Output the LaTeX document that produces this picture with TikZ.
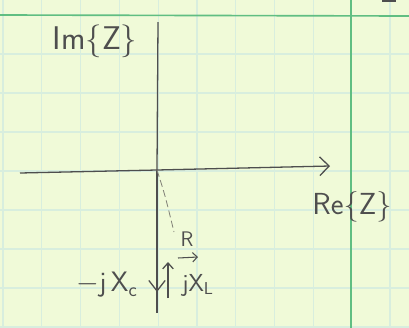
\documentclass[tikz,border=0pt]{standalone}
\usepackage{fontspec}
\definecolor{paper}{RGB}{240,250,216}
\definecolor{gridpale}{RGB}{216,238,222}
\definecolor{gridgreen}{RGB}{96,190,130}
\definecolor{pencil}{RGB}{78,78,78}
\definecolor{pencilfaint}{RGB}{130,130,120}
\usetikzlibrary{arrows.meta,positioning}
\tikzset{
  axisline/.style={draw=pencil, line width=1.1pt},
  vecline/.style={draw=pencil, line width=1.1pt, -{Straight Barb[length=9pt,width=14pt]}},
  faintline/.style={draw=pencilfaint, line width=0.7pt, dash pattern=on 6pt off 3pt},
  ink/.style={text=pencil, font=\sffamily\fontsize{#1}{#1}\selectfont, inner sep=1pt},
}
\begin{document}
\begin{tikzpicture}[x=0.03cm, y=-0.03cm]
% Paper and grid
\fill[paper] (0,0) rectangle (409,328);
\useasboundingbox (0,0) rectangle (409,328);
\foreach \gx in {3,41.8,80.6,119.4,158.2,197,235.8,274.6,313.4,390}
  \draw[gridpale, line width=1pt] (\gx,0) -- (\gx,328);
\foreach \gy in {54,93,132,171,210,249,288,327}
  \draw[gridpale, line width=1pt] (0,\gy) -- (409,\gy);
\draw[gridgreen, line width=1.4pt] (0,15) -- (409,16);
\draw[gridgreen, line width=1.4pt] (351,0) -- (351,328);
\fill[pencil] (382,0) rectangle (396,2);
% Axes
\coordinate (origin) at (157,170);
\coordinate (reend) at (330,166);
\coordinate (imtop) at (158,22);
\coordinate (imbot) at (157,313);
\draw[axisline] (20,173) -- (origin);
\draw[axisline, -{Straight Barb[length=8pt,width=16pt]}] (origin) -- (reend);
\draw[axisline] (origin) -- (imtop);
\draw[axisline] (origin) -- (imbot);
\node[ink=28pt] (imlabel) at (95,41) {Im\{Z\}};
\node[ink=26pt] (relabel) at (352,207) {Re\{Z\}};
% Phasors
\coordinate (rtip) at (174,232);
\draw[faintline] (origin) .. controls (165,195) .. (rtip);
\node[ink=18pt] (rlabel) at (187,239) {R};
\coordinate (rarrowa) at (178,258);
\coordinate (rarrowb) at (198,257);
\draw[draw=pencil, line width=0.9pt, -{Straight Barb[length=4pt,width=8pt]}] (rarrowa) -- (rarrowb);
\coordinate (xcbase) at (157,176);
\coordinate (xctip) at (157,292);
\draw[vecline] (xcbase) -- (xctip);
\coordinate (xlbase) at (168,298);
\coordinate (xltip) at (168,262);
\draw[vecline, -{Straight Barb[length=5pt,width=9pt]}] (xlbase) -- (xltip);
\node[ink=24pt] (xclabel) at (107,285) {$-$j\,X\textsubscript{c}};
\node[ink=21pt] (xllabel) at (198,285) {jX\textsubscript{L}};
\end{tikzpicture}
\end{document}
